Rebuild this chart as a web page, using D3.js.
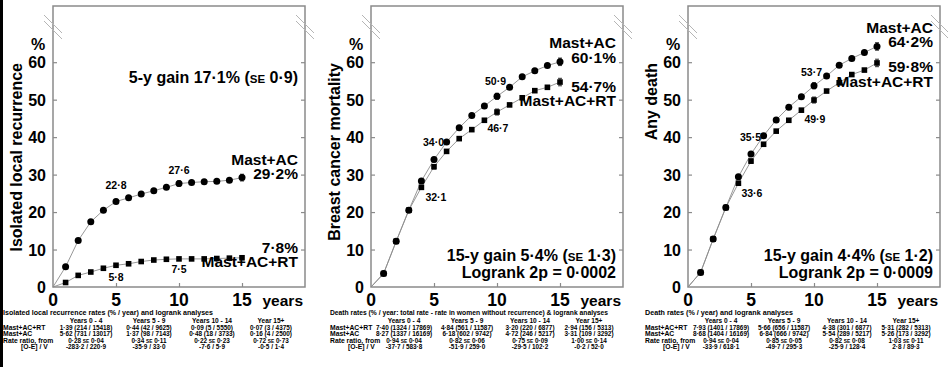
<!DOCTYPE html>
<html><head><meta charset="utf-8">
<script src="https://cdn.jsdelivr.net/npm/d3@7"></script>
<style>
body{margin:0;background:#fff}
svg{display:block;font-family:"Liberation Sans",Arial,Helvetica,sans-serif;font-weight:bold}
</style>
</head><body>
<svg id="chart" width="948" height="367"></svg>
<script>
// ---------- data ----------
const years = [1,2,3,4,5,6,7,8,9,10,11,12,13,14,15];
const xTicks = [0,5,10,15];
const yTicks = [0,10,20,30,40,50,60];
const errYears = [5,10,15];

const recurrenceAC   = [5.4,12.4,17.4,20.5,22.8,23.8,24.8,25.7,26.6,27.6,27.9,28.1,28.2,28.5,29.2];
const recurrenceACRT = [1.2,3.1,4.0,5.0,5.8,6.2,6.8,7.2,7.4,7.5,7.5,7.5,7.6,7.7,7.8];
const recurrenceErrAC = [0.5,0.7,0.9];
const recurrenceErrACRT = [0.3,0.4,0.5];

const bcMortAC   = [3.6,12.2,20.5,28.3,34.0,38.7,42.5,45.8,48.3,50.9,53.3,56.1,57.7,59.1,60.1];
const bcMortACRT = [3.6,12.2,20.5,26.6,32.1,36.2,39.6,42.0,44.5,46.7,48.6,50.5,52.4,53.3,54.7];
const bcMortErrAC = [0.6,0.8,1.0];
const bcMortErrACRT = [0.6,0.8,1.0];

const anyDeathAC   = [3.9,12.8,21.2,29.4,35.5,40.4,44.6,48.0,50.8,53.7,56.3,59.2,61.0,62.6,64.2];
const anyDeathACRT = [3.9,12.8,21.2,27.7,33.6,38.1,41.6,44.5,47.2,49.9,52.3,54.5,56.7,57.9,59.8];
const anyDeathErrAC = [0.6,0.8,1.0];
const anyDeathErrACRT = [0.6,0.8,1.0];

const colHeaders = ["Years 0 - 4","Years 5 - 9","Years 10 - 14","Year 15+"];
const rowLabels = ["Mast+AC+RT","Mast+AC","Rate ratio, from","[O-E] / V"];

const recurrenceTable = [
  ["1·39 (214 / 15418)","0·44 (42 / 9625)","0·09 (5 / 5550)","0·07 (3 / 4375)"],
  ["5·62 (731 / 13017)","1·37 (98 / 7143)","0·48 (18 / 3733)","0·16 (4 / 2500)"],
  ["0·28 SE 0·04","0·34 SE 0·11","0·22 SE 0·23","0·72 SE 0·73"],
  ["-283·2 / 220·9","-35·9 / 33·0","-7·6 / 5·9","-0·5 / 1·4"]
];
const bcMortTable = [
  ["7·40 (1324 / 17869)","4·84 (561 / 11587)","3·20 (220 / 6877)","2·94 (156 / 5313)"],
  ["8·27 (1337 / 16169)","6·18 (602 / 9742)","4·72 (246 / 5217)","3·31 (109 / 3292)"],
  ["0·94 SE 0·04","0·82 SE 0·06","0·75 SE 0·09","1·00 SE 0·14"],
  ["-37·7 / 583·8","-51·9 / 259·0","-29·5 / 102·2","-0·2 / 52·0"]
];
const anyDeathTable = [
  ["7·93 (1401 / 17869)","5·66 (656 / 11587)","4·38 (301 / 6877)","5·31 (282 / 5313)"],
  ["8·68 (1404 / 16169)","6·84 (666 / 9742)","5·54 (289 / 5217)","5·26 (173 / 3292)"],
  ["0·94 SE 0·04","0·85 SE 0·05","0·82 SE 0·08","1·03 SE 0·11"],
  ["-33·9 / 618·1","-49·7 / 295·3","-25·9 / 128·4","2·8 / 89·3"]
];

// ---------- panels ----------
const panels = [
  { L:53, yTitle:"Isolated local recurrence", ac:recurrenceAC, acrt:recurrenceACRT,
    errAC:recurrenceErrAC, errACRT:recurrenceErrACRT, table:recurrenceTable, labelX:3, titleW:210,
    tableTitle:"Isolated local recurrence rates (% / year) and logrank analyses",
    big:[ {t:["5-y gain 17·1% (","SE"," 0·9)"], y:83, fs:16},
          {t:["Mast+AC"], y:165}, {t:["29·2%"], y:179},
          {t:["7·8%"], y:253}, {t:["Mast+AC+RT"], y:267} ],
    small:[ {t:"22·8", yr:5, s:"ac", dx:0, dy:-13, a:"middle"},
            {t:"27·6", yr:10, s:"ac", dx:0, dy:-10, a:"middle"},
            {t:"5·8", yr:5, s:"acrt", dx:0, dy:16, a:"middle"},
            {t:"7·5", yr:10, s:"acrt", dx:0, dy:14, a:"middle"} ] },
  { L:371, yTitle:"Breast cancer mortality", ac:bcMortAC, acrt:bcMortACRT,
    errAC:bcMortErrAC, errACRT:bcMortErrACRT, table:bcMortTable, labelX:330, titleW:278,
    tableTitle:"Death rates (% / year: total rate - rate in women without recurrence) & logrank analyses",
    big:[ {t:["Mast+AC"], y:48}, {t:["60·1%"], y:63},
          {t:["54·7%"], y:92}, {t:["Mast+AC+RT"], y:106},
          {t:["15-y gain 5·4% (","SE"," 1·3)"], y:261, fs:16},
          {t:["Logrank 2p = 0·0002"], y:278, fs:16} ],
    small:[ {t:"50·9", yr:10, s:"ac", dx:9, dy:-11, a:"end"},
            {t:"46·7", yr:9, s:"acrt", dx:3, dy:12, a:"start"},
            {t:"34·0", yr:5, s:"ac", dx:10, dy:-14, a:"end"},
            {t:"32·1", yr:4, s:"acrt", dx:4, dy:14, a:"start"} ] },
  { L:688, yTitle:"Any death", ac:anyDeathAC, acrt:anyDeathACRT,
    errAC:anyDeathErrAC, errACRT:anyDeathErrACRT, table:anyDeathTable, labelX:645, titleW:148,
    tableTitle:"Death rates (% / year) and logrank analyses",
    big:[ {t:["Mast+AC"], y:33}, {t:["64·2%"], y:47},
          {t:["59·8%"], y:72}, {t:["Mast+AC+RT"], y:87},
          {t:["15-y gain 4·4% (","SE"," 1·2)"], y:261, fs:16},
          {t:["Logrank 2p = 0·0009"], y:278, fs:16} ],
    small:[ {t:"53·7", yr:10, s:"ac", dx:8, dy:-10, a:"end"},
            {t:"49·9", yr:9, s:"acrt", dx:3, dy:13, a:"start"},
            {t:"35·5", yr:5, s:"ac", dx:10, dy:-13, a:"end"},
            {t:"33·6", yr:4, s:"acrt", dx:3, dy:14, a:"start"} ] }
];

const svg = d3.select("#chart");
svg.append("rect").attr("x",0).attr("y",0).attr("width",948).attr("height",367).attr("fill","#fff");
svg.append("rect").attr("x",0).attr("y",0).attr("width",3).attr("height",367).attr("fill","#000");

const TOP = 6, BOT = 287, PW = 252;
const frameCol = "#8a8a8a";

panels.forEach(p => {
  const x = d3.scaleLinear().domain([0,20]).range([p.L, p.L+PW]);
  const y = d3.scaleLinear().domain([0,75]).range([BOT, TOP]);
  const g = svg.append("g");

  // frame
  g.append("rect").attr("x",p.L).attr("y",TOP).attr("width",PW).attr("height",BOT-TOP)
    .attr("fill","none").attr("stroke",frameCol).attr("stroke-width",1.5);

  // inward ticks via axes
  const yl = g.append("g").attr("transform",`translate(${p.L},0)`)
    .call(d3.axisRight(y).tickValues(yTicks.slice(1)).tickSize(4).tickFormat(""));
  const yr = g.append("g").attr("transform",`translate(${p.L+PW},0)`)
    .call(d3.axisLeft(y).tickValues(yTicks.slice(1)).tickSize(4).tickFormat(""));
  const xb = g.append("g").attr("transform",`translate(0,${BOT})`)
    .call(d3.axisTop(x).tickValues(xTicks.slice(1)).tickSize(4).tickFormat(""));
  [yl,yr,xb].forEach(a => { a.select(".domain").remove(); a.selectAll("line").attr("stroke",frameCol).attr("stroke-width",1.2); });

  // tick labels
  g.selectAll(".ytl").data(yTicks).join("text")
    .attr("x",p.L-7).attr("y",d=>y(d)+6).attr("text-anchor","end")
    .attr("font-size",16).text(d=>d);
  g.append("text").attr("x",p.L-15).attr("y",50).attr("text-anchor","middle").attr("font-size",16).text("%");
  g.selectAll(".xtl").data(xTicks).join("text")
    .attr("x",d=>x(d)).attr("y",306).attr("text-anchor","middle")
    .attr("font-size",17.5).text(d=>d);
  g.append("text").attr("x",p.L+250).attr("y",306).attr("text-anchor","end").attr("font-size",15.5).text("years");

  // y title
  g.append("text").attr("transform",`translate(${p.L-31},63) rotate(-90)`)
    .attr("text-anchor","end").attr("font-size",16).text(p.yTitle);

  // break marks
  [p.L, p.L+PW].forEach(ax => {
    [0,6].forEach(o => {
      g.append("line").attr("x1",ax-9).attr("y1",15+o).attr("x2",ax+9).attr("y2",33+o)
        .attr("stroke","#b5b5b5").attr("stroke-width",1);
    });
  });

  // lines
  const line = d3.line().x(d=>x(d[0])).y(d=>y(d[1]));
  [p.acrt, p.ac].forEach(vals => {
    const pts = [[0,0]].concat(years.map((yv,i)=>[yv, vals[i]]));
    g.append("path").attr("d",line(pts)).attr("fill","none").attr("stroke","#8c8c8c").attr("stroke-width",0.9);
  });

  // error bars
  [[p.ac,p.errAC],[p.acrt,p.errACRT]].forEach(([vals,errs]) => {
    errYears.forEach((ey,i) => {
      const v = vals[years.indexOf(ey)];
      g.append("line").attr("x1",x(ey)).attr("x2",x(ey)).attr("y1",y(v-errs[i])).attr("y2",y(v+errs[i]))
        .attr("stroke","#333").attr("stroke-width",1);
      [v-errs[i], v+errs[i]].forEach(e => g.append("line").attr("x1",x(ey)-2).attr("x2",x(ey)+2)
        .attr("y1",y(e)).attr("y2",y(e)).attr("stroke","#333").attr("stroke-width",1));
    });
  });

  // markers
  g.selectAll(".sq").data(years.map((yv,i)=>[yv,p.acrt[i]])).join("rect")
    .attr("x",d=>x(d[0])-2.8).attr("y",d=>y(d[1])-2.8).attr("width",5.6).attr("height",5.6).attr("fill","#000");
  g.selectAll(".ci").data(years.map((yv,i)=>[yv,p.ac[i]])).join("circle")
    .attr("cx",d=>x(d[0])).attr("cy",d=>y(d[1])).attr("r",3.5).attr("fill","#000");

  // big annotations
  p.big.forEach(b => {
    const t = g.append("text").attr("x",p.L+245).attr("y",b.y).attr("text-anchor","end").attr("font-size",b.fs||15.5);
    b.t.forEach(s => {
      const ts = t.append("tspan").text(s);
      if (s === "SE") ts.attr("font-size",11.5);
    });
  });

  // small value labels
  p.small.forEach(s => {
    const v = (s.s==="ac" ? p.ac : p.acrt)[years.indexOf(s.yr)];
    g.append("text").attr("x",x(s.yr)+s.dx).attr("y",y(v)+s.dy).attr("text-anchor",s.a)
      .attr("font-size",10.5).text(s.t);
  });

  // table
  const cols = [33,96,159,218].map(c=>p.L+c);
  g.append("text").attr("x",p.labelX).attr("y",315).attr("font-size",6.8)
    .attr("textLength",p.titleW).attr("lengthAdjust","spacingAndGlyphs").text(p.tableTitle);
  g.selectAll(".ch").data(colHeaders).join("text")
    .attr("x",(d,i)=>cols[i]).attr("y",323).attr("text-anchor","middle").attr("font-size",6.6).text(d=>d);
  const rowY = [330,336,343,349];
  rowLabels.forEach((r,ri) => {
    g.append("text").attr("x", ri===3 ? p.labelX+18 : p.labelX).attr("y",rowY[ri]).attr("font-size",6.8).text(r);
    p.table[ri].forEach((cell,ci) => {
      const t = g.append("text").attr("x",cols[ci]).attr("y",rowY[ri]).attr("text-anchor","middle").attr("font-size",6.4);
      const parts = cell.split(" SE ");
      if (parts.length===2) {
        t.append("tspan").text(parts[0]+" ");
        t.append("tspan").attr("font-size",4.8).text("SE");
        t.append("tspan").text(" "+parts[1]);
      } else t.text(cell);
    });
  });
});
</script>
</body></html>
